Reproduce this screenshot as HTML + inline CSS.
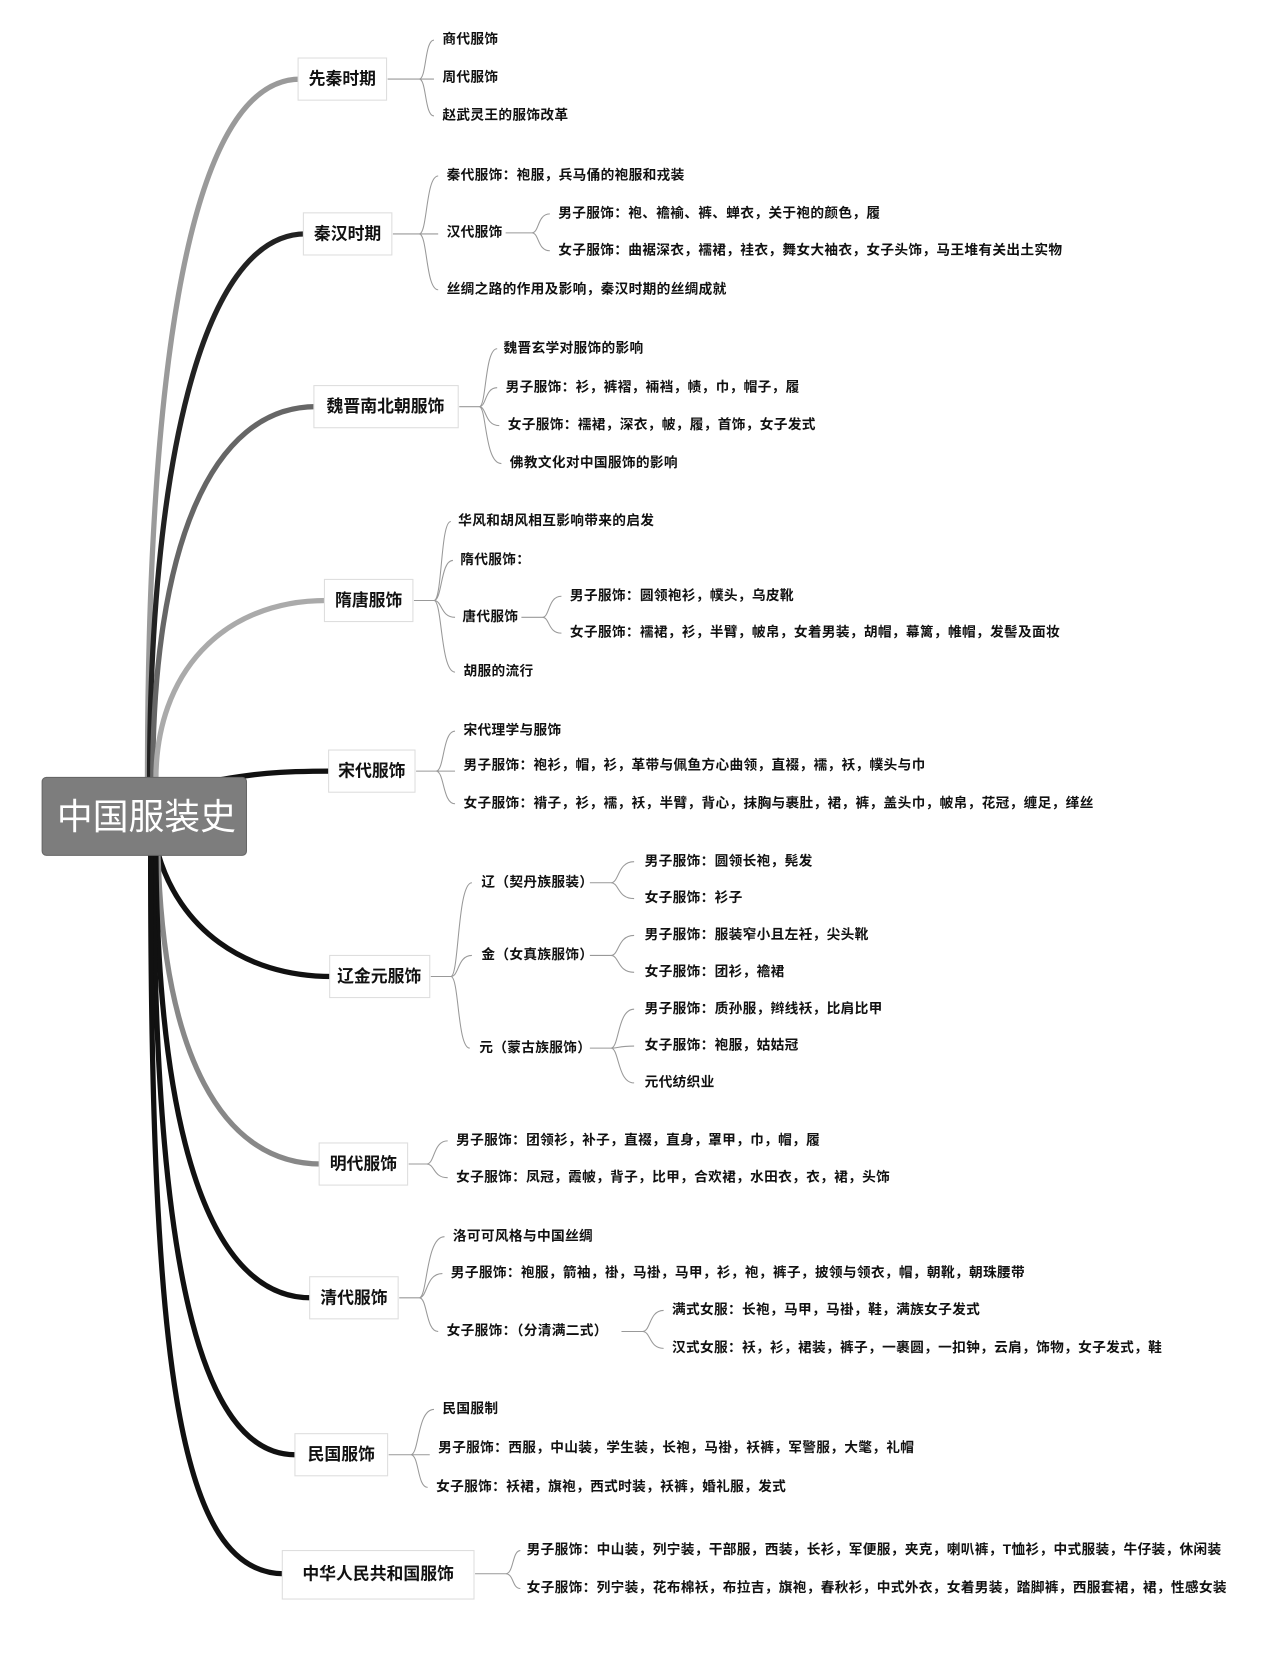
<!DOCTYPE html>
<html><head><meta charset="utf-8"><style>
html,body{margin:0;padding:0;background:#fff;}
svg{display:block;}
text{font-family:"Liberation Sans","Noto Sans CJK SC",sans-serif;fill:#111;}
.l{font-size:13px;font-weight:bold;dominant-baseline:middle;letter-spacing:0.3px;}
.c{font-size:16px;font-weight:bold;dominant-baseline:middle;text-anchor:middle;}
.b{fill:#fff;stroke:#ddd;stroke-width:1;}
.t{fill:none;stroke:#999;stroke-width:1;}
.m{fill:none;stroke-linecap:round;}
</style></head><body>
<svg width="1264" height="1656" viewBox="0 0 1200 1572" xmlns="http://www.w3.org/2000/svg">
<path class="m" stroke="#9a9a9a" stroke-width="5" d="M140,740 C140,400 170,75 285,75"/>
<path class="m" stroke="#222" stroke-width="5" d="M142,740 C142,450 190,222 290,222"/>
<path class="m" stroke="#666" stroke-width="5" d="M145,740 C145,520 200,386 300,386"/>
<path class="m" stroke="#aaa" stroke-width="5" d="M148,740 C148,640 210,570 310,570"/>
<path class="m" stroke="#111" stroke-width="5" d="M210,740 C240,735 260,732 315,732"/>
<path class="m" stroke="#111" stroke-width="5" d="M150,810 C170,880 230,927 315,927"/>
<path class="m" stroke="#888" stroke-width="5" d="M150,810 C155,1000 210,1105 305,1105"/>
<path class="m" stroke="#111" stroke-width="5" d="M148,810 C150,1080 200,1232 295,1232"/>
<path class="m" stroke="#111" stroke-width="5" d="M146,810 C146,1200 190,1381 280,1381"/>
<path class="m" stroke="#111" stroke-width="5" d="M143,810 C143,1300 170,1494 270,1494"/>
<rect x="40" y="738" width="194" height="74" rx="4" fill="#7d7d7d" stroke="#666"/>
<text x="139" y="778" style="font-size:34px;fill:#fff;dominant-baseline:middle;text-anchor:middle;">中国服装史</text>
<rect class="b" x="283" y="55" width="84" height="40"/><text class="c" x="325" y="76">先秦时期</text>
<rect class="b" x="288" y="202" width="84" height="40"/><text class="c" x="330" y="223">秦汉时期</text>
<rect class="b" x="298" y="366" width="137" height="40"/><text class="c" x="366" y="387">魏晋南北朝服饰</text>
<rect class="b" x="308" y="550" width="84" height="40"/><text class="c" x="350" y="571">隋唐服饰</text>
<rect class="b" x="312" y="712" width="82" height="40"/><text class="c" x="353" y="733">宋代服饰</text>
<rect class="b" x="313" y="907" width="95" height="40"/><text class="c" x="360" y="928">辽金元服饰</text>
<rect class="b" x="303" y="1085" width="84" height="40"/><text class="c" x="345" y="1106">明代服饰</text>
<rect class="b" x="294" y="1212" width="84" height="40"/><text class="c" x="336" y="1233">清代服饰</text>
<rect class="b" x="280" y="1361" width="88" height="40"/><text class="c" x="324" y="1382">民国服饰</text>
<rect class="b" x="268" y="1472" width="182" height="46"/><text class="c" x="359" y="1495">中华人民共和国服饰</text>
<path class="t" d="M368,75 H398 M398,75 C405,75 403,38 412,38 M398,75 H412 M398,75 C405,75 403,110 412,110"/>
<path class="t" d="M373,222 H398 M398,222 C406,222 404,167 416,167 M398,222 H416 M398,222 C406,222 404,275 416,275"/>
<path class="t" d="M480,221 H505 M505,221 C512,221 510,203 522,203 M505,221 C512,221 510,238 522,238"/>
<path class="t" d="M436,386 H455 M455,386 C462,386 460,331 472,331 M455,386 C462,386 460,368 472,368 M455,386 C462,386 460,404 474,404 M455,386 C462,386 460,440 476,440"/>
<path class="t" d="M393,570 H412 M412,570 C420,570 418,495 428,495 M412,570 C420,570 418,532 430,532 M412,570 C420,570 418,586 432,586 M412,570 C420,570 418,638 432,638"/>
<path class="t" d="M495,586 H515 M515,586 C522,586 520,566 533,566 M515,586 C522,586 520,601 533,601"/>
<path class="t" d="M395,732 H414 M414,732 C422,732 420,694 432,694 M414,732 H432 M414,732 C422,732 420,763 432,763"/>
<path class="t" d="M409,927 H428 M428,927 C436,927 434,838 448,838 M428,927 C436,927 434,907 448,907 M428,927 C436,927 434,995 446,995"/>
<path class="t" d="M560,838 H580 M580,838 C588,838 586,818 602,818 M580,838 C588,838 586,853 602,853"/>
<path class="t" d="M560,907 H580 M580,907 C588,907 586,888 602,888 M580,907 C588,907 586,923 602,923"/>
<path class="t" d="M560,995 H580 M580,995 C588,995 586,958 602,958 M580,995 C588,995 586,993 602,993 M580,995 C588,995 586,1028 602,1028"/>
<path class="t" d="M388,1105 H405 M405,1105 C413,1105 411,1083 425,1083 M405,1105 C413,1105 411,1118 425,1118"/>
<path class="t" d="M379,1232 H398 M398,1232 C406,1232 404,1174 422,1174 M398,1232 C406,1232 404,1209 420,1209 M398,1232 C406,1232 404,1264 416,1264"/>
<path class="t" d="M590,1264 H610 M610,1264 C618,1264 616,1244 630,1244 M610,1264 C618,1264 616,1280 630,1280"/>
<path class="t" d="M369,1381 H390 M390,1381 C398,1381 396,1338 412,1338 M390,1381 H408 M390,1381 C398,1381 396,1412 406,1412"/>
<path class="t" d="M451,1494 H480 M480,1494 C488,1494 486,1472 494,1472 M480,1494 C488,1494 486,1508 494,1508"/>
<text class="l" x="420" y="38">商代服饰</text>
<text class="l" x="420" y="74">周代服饰</text>
<text class="l" x="420" y="110">赵武灵王的服饰改革</text>
<text class="l" x="424" y="167">秦代服饰：袍服，兵马俑的袍服和戎装</text>
<text class="l" x="424" y="221">汉代服饰</text>
<text class="l" x="424" y="275">丝绸之路的作用及影响，秦汉时期的丝绸成就</text>
<text class="l" x="530" y="203">男子服饰：袍、襜褕、裤、蝉衣，关于袍的颜色，履</text>
<text class="l" x="530" y="238">女子服饰：曲裾深衣，襦裙，袿衣，舞女大袖衣，女子头饰，马王堆有关出土实物</text>
<text class="l" x="478" y="331">魏晋玄学对服饰的影响</text>
<text class="l" x="480" y="368">男子服饰：衫，裤褶，裲裆，帻，巾，帽子，履</text>
<text class="l" x="482" y="404">女子服饰：襦裙，深衣，帔，履，首饰，女子发式</text>
<text class="l" x="484" y="440">佛教文化对中国服饰的影响</text>
<text class="l" x="435" y="495">华风和胡风相互影响带来的启发</text>
<text class="l" x="437" y="532">隋代服饰：</text>
<text class="l" x="439" y="586">唐代服饰</text>
<text class="l" x="440" y="638">胡服的流行</text>
<text class="l" x="541" y="566">男子服饰：圆领袍衫，幞头，乌皮靴</text>
<text class="l" x="541" y="601">女子服饰：襦裙，衫，半臂，帔帛，女着男装，胡帽，幕篱，帷帽，发髻及面妆</text>
<text class="l" x="440" y="694">宋代理学与服饰</text>
<text class="l" x="440" y="727">男子服饰：袍衫，帽，衫，革带与佩鱼方心曲领，直裰，襦，袄，幞头与巾</text>
<text class="l" x="440" y="763">女子服饰：褙子，衫，襦，袄，半臂，背心，抹胸与裹肚，裙，裤，盖头巾，帔帛，花冠，缠足，缂丝</text>
<text class="l" x="457" y="838">辽（契丹族服装）</text>
<text class="l" x="457" y="907">金（女真族服饰）</text>
<text class="l" x="455" y="995">元（蒙古族服饰）</text>
<text class="l" x="612" y="818">男子服饰：圆领长袍，髡发</text>
<text class="l" x="612" y="853">女子服饰：衫子</text>
<text class="l" x="612" y="888">男子服饰：服装窄小且左衽，尖头靴</text>
<text class="l" x="612" y="923">女子服饰：团衫，襜裙</text>
<text class="l" x="612" y="958">男子服饰：质孙服，辫线袄，比肩比甲</text>
<text class="l" x="612" y="993">女子服饰：袍服，姑姑冠</text>
<text class="l" x="612" y="1028">元代纺织业</text>
<text class="l" x="433" y="1083">男子服饰：团领衫，补子，直裰，直身，罩甲，巾，帽，履</text>
<text class="l" x="433" y="1118">女子服饰：凤冠，霞帔，背子，比甲，合欢裙，水田衣，衣，裙，头饰</text>
<text class="l" x="430" y="1174">洛可可风格与中国丝绸</text>
<text class="l" x="428" y="1209">男子服饰：袍服，箭袖，褂，马褂，马甲，衫，袍，裤子，披领与领衣，帽，朝靴，朝珠腰带</text>
<text class="l" x="424" y="1264">女子服饰：（分清满二式）</text>
<text class="l" x="638" y="1244">满式女服：长袍，马甲，马褂，鞋，满族女子发式</text>
<text class="l" x="638" y="1280">汉式女服：袄，衫，裙装，裤子，一裹圆，一扣钟，云肩，饰物，女子发式，鞋</text>
<text class="l" x="420" y="1338">民国服制</text>
<text class="l" x="416" y="1375">男子服饰：西服，中山装，学生装，长袍，马褂，袄裤，军警服，大氅，礼帽</text>
<text class="l" x="414" y="1412">女子服饰：袄裙，旗袍，西式时装，袄裤，婚礼服，发式</text>
<text class="l" x="500" y="1472">男子服饰：中山装，列宁装，干部服，西装，长衫，军便服，夹克，喇叭裤，T恤衫，中式服装，牛仔装，休闲装</text>
<text class="l" x="500" y="1508">女子服饰：列宁装，花布棉袄，布拉吉，旗袍，春秋衫，中式外衣，女着男装，踏脚裤，西服套裙，裙，性感女装</text>
</svg>
</body></html>
